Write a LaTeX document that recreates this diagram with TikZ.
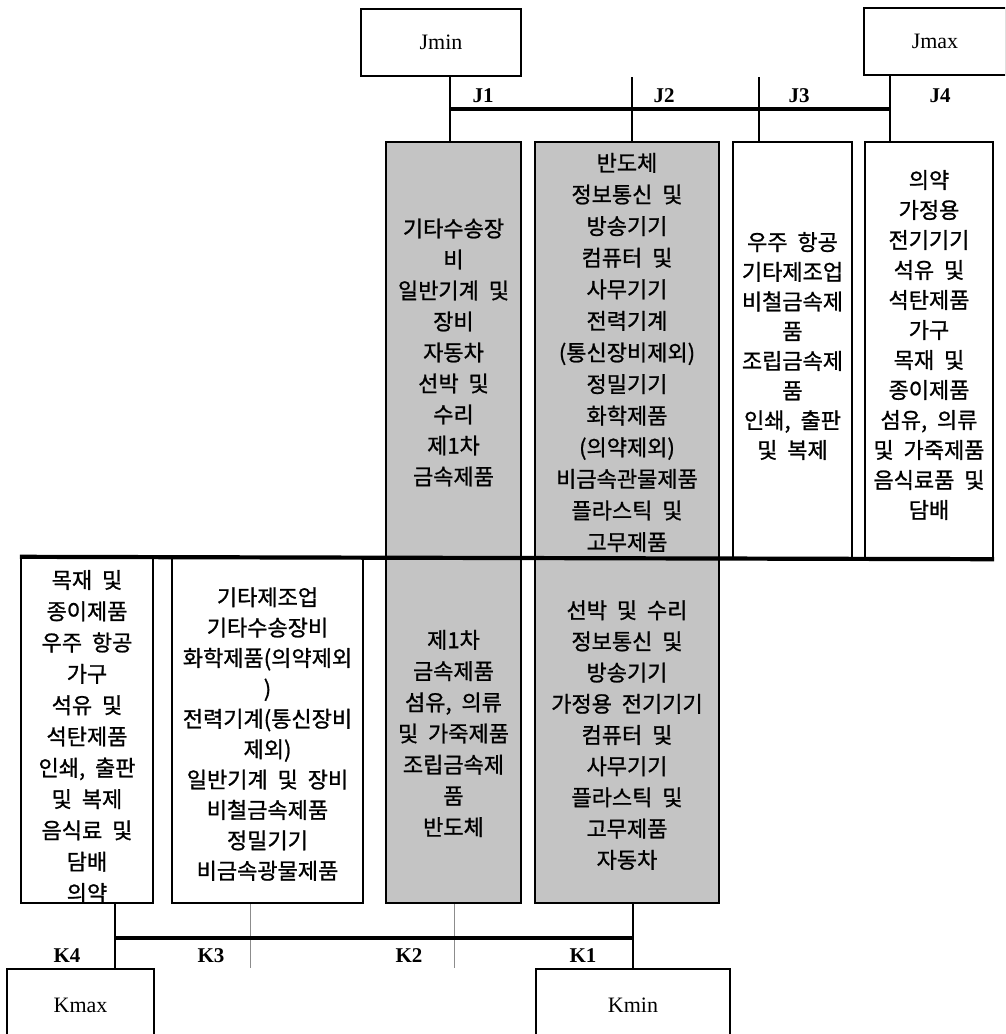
\documentclass[tikz,border=0pt]{standalone}
\usepackage{fontspec}
\setmainfont{Liberation Serif}
\newfontfamily\kfont[WordSpace=2,FakeBold=1]{Noto Sans CJK KR}
\begin{document}
\begin{tikzpicture}[x=1pt,y=-1pt,
  box/.style={draw, line width=2.4pt, inner sep=0pt},
  shaded/.style={box, fill=black!23},
  ktext/.style={font={\kfont\fontsize{22}{#1}\selectfont}, align=center, inner sep=0pt},
  endtext/.style={font=\fontsize{22}{24}\selectfont, inner sep=0pt},
  lbl/.style={font=\bfseries\fontsize{21}{24}\selectfont, inner sep=0pt},
  conn/.style={line width=1.4pt},
  thickline/.style={line width=4.2pt},
  divider/.style={line width=0.8pt, black!45}]
\useasboundingbox (0,0) rectangle (1005,1034);
\clip (0,0) rectangle (1005,1034);

% end boxes
\node[box, endtext, minimum width=160pt, minimum height=67pt] (jmin) at (441,42.5) {Jmin};
\node[box, endtext, minimum width=142pt, minimum height=67pt] (jmax) at (935,41.5) {Jmax};
\node[box, endtext, minimum width=147pt, minimum height=72pt] (kmax) at (80.5,1005) {Kmax};
\node[box, endtext, minimum width=194pt, minimum height=72pt] (kmin) at (633,1005) {Kmin};

% upper boxes
\node[shaded, minimum width=135pt, minimum height=416pt] (t1) at (453.5,350) {};
\node[shaded, minimum width=184pt, minimum height=416pt] (t2) at (627,350) {};
\node[box, minimum width=119pt, minimum height=416pt] (t3) at (792.5,350) {};
\node[box, minimum width=128pt, minimum height=416pt] (t4) at (929,350) {};
\node[ktext=31] (t1txt) at (453.5,352.5)
  {기타수송장\\비\\일반기계 및\\장비\\자동차\\선박 및\\수리\\제1차\\금속제품};
\node[ktext=31.6] (t2txt) at (627,352.5)
  {반도체\\정보통신 및\\방송기기\\컴퓨터 및\\사무기기\\전력기계\\(통신장비제외)\\정밀기기\\화학제품\\(의약제외)\\비금속관물제품\\플라스틱 및\\고무제품};
\node[ktext=29.7] (t3txt) at (792.5,346)
  {우주 항공\\기타제조업\\비철금속제\\품\\조립금속제\\품\\인쇄, 출판\\및 복제};
\node[ktext=30] (t4txt) at (929,345)
  {의약\\가정용\\전기기기\\석유 및\\석탄제품\\가구\\목재 및\\종이제품\\섬유, 의류\\및 가죽제품\\음식료품 및\\담배};

% lower boxes
\node[box, minimum width=132pt, minimum height=345pt] (b1) at (87,730.5) {};
\node[box, minimum width=191pt, minimum height=345pt] (b2) at (267.5,730.5) {};
\node[shaded, minimum width=135pt, minimum height=345pt] (b3) at (453.5,730.5) {};
\node[shaded, minimum width=184pt, minimum height=345pt] (b4) at (627,730.5) {};
\node[ktext=31.3] (b1txt) at (87,736.5)
  {목재 및\\종이제품\\우주 항공\\가구\\석유 및\\석탄제품\\인쇄, 출판\\및 복제\\음식료 및\\담배\\의약};
\node[ktext=30.4] (b2txt) at (267.5,734)
  {기타제조업\\기타수송장비\\화학제품(의약제외\\)\\전력기계(통신장비\\제외)\\일반기계 및 장비\\비철금속제품\\정밀기기\\비금속광물제품};
\node[ktext=31.2] (b3txt) at (453.5,733.5)
  {제1차\\금속제품\\섬유, 의류\\및 가죽제품\\조립금속제\\품\\반도체};
\node[ktext=31.2] (b4txt) at (627,735)
  {선박 및 수리\\정보통신 및\\방송기기\\가정용 전기기기\\컴퓨터 및\\사무기기\\플라스틱 및\\고무제품\\자동차};

% J connectors
\coordinate (j1) at (450,109);
\coordinate (j2) at (632,109);
\coordinate (j3) at (759,109);
\coordinate (j4) at (890,109);
\draw[conn] (jmin.south -| j1) -- (t1.north -| j1);
\draw[conn] (j2 |- jmin.south) -- (t2.north -| j2);
\draw[conn] (j3 |- jmin.south) -- (t3.north -| j3);
\draw[conn] (jmax.south -| j4) -- (t4.north -| j4);
\draw[thickline] (j1) -- (j4);
\node[lbl] (lj1) at (483,96) {J1};
\node[lbl] (lj2) at (664,96) {J2};
\node[lbl] (lj3) at (799,96) {J3};
\node[lbl] (lj4) at (940,96) {J4};

% middle line
\draw[thickline] (b1.north west) -- (t4.south east);

% K connectors
\coordinate (k4) at (115,938);
\coordinate (k3) at (250,938);
\coordinate (k2) at (454,938);
\coordinate (k1) at (633,938);
\draw[conn] (b1.south -| k4) -- (kmax.north -| k4);
\draw[conn] (b4.south -| k1) -- (kmin.north -| k1);
\draw[divider] (b2.south -| k3) -- (kmax.north -| k3);
\draw[divider] (b3.south -| k2) -- (kmax.north -| k2);
\draw[thickline] (k4) -- (k1);
\node[lbl] (lk4) at (67,956) {K4};
\node[lbl] (lk3) at (211,956) {K3};
\node[lbl] (lk2) at (409,956) {K2};
\node[lbl] (lk1) at (583,956) {K1};
\end{tikzpicture}
\end{document}
